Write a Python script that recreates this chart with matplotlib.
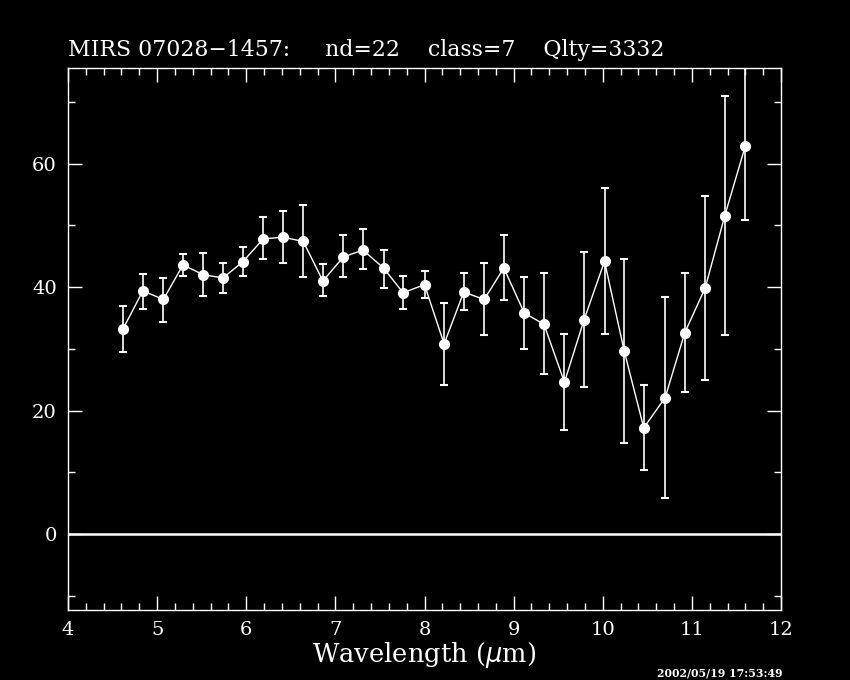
import matplotlib
matplotlib.use("Agg")
import matplotlib.pyplot as plt
from matplotlib.ticker import MultipleLocator

# spectrum
WAVE = [4.62, 4.84, 5.07, 5.29, 5.52, 5.74, 5.96, 6.19, 6.41, 6.64, 6.86,
        7.09, 7.31, 7.54, 7.76, 8.00, 8.22, 8.44, 8.67, 8.89, 9.12, 9.34,
        9.57, 9.79, 10.02, 10.24, 10.46, 10.70, 10.92, 11.15, 11.37, 11.60]
FLUX = [33.3, 39.4, 38.0, 43.6, 42.0, 41.5, 44.1, 47.8, 48.1, 47.4, 41.0,
        44.9, 46.0, 43.1, 39.1, 40.4, 30.8, 39.2, 38.0, 43.1, 35.8, 34.0,
        24.6, 34.7, 44.2, 29.7, 17.2, 22.1, 32.6, 39.9, 51.6, 62.9]
ERR_HI = [37.0, 42.1, 41.5, 45.4, 45.5, 43.9, 46.5, 51.4, 52.3, 53.3, 43.8,
          48.5, 49.4, 46.0, 41.8, 42.6, 37.4, 42.3, 43.9, 48.5, 41.7, 42.3,
          32.4, 45.7, 56.0, 44.6, 24.1, 38.4, 42.3, 54.8, 71.0, 75.5]
ERR_LO = [29.5, 36.5, 34.4, 41.8, 38.6, 39.1, 41.8, 44.6, 43.9, 41.7, 38.6,
          41.7, 42.9, 39.9, 36.5, 38.2, 24.1, 36.3, 32.3, 37.9, 30.0, 25.9,
          16.9, 23.8, 32.4, 14.7, 10.4, 5.8, 23.0, 25.0, 32.3, 50.9]

TITLE = "MIRS 07028\u22121457:     nd=22    class=7    Qlty=3332"
STAMP = "2002/05/19 17:53:49"

plt.rcParams["font.family"] = ["DejaVu Serif"]
fig = plt.figure(figsize=(8.5, 6.8), dpi=100, facecolor="black")
ax = fig.add_axes([68 / 850, 1 - 610 / 680, (781 - 68) / 850, (610 - 68) / 680])
ax.set_facecolor("black")

yerr = [[f - lo for f, lo in zip(FLUX, ERR_LO)], [hi - f for f, hi in zip(FLUX, ERR_HI)]]
ax.axhline(0, color="white", lw=1.8, zorder=1)
ax.errorbar(WAVE, FLUX, yerr=yerr, fmt="-o", color="white", ms=7, lw=1,
            elinewidth=1.2, capsize=3, capthick=1.5, mfc="white", mec="white", zorder=3)

ax.set_xlim(4, 12)
ax.set_ylim(-12.3, 75.5)
ax.xaxis.set_major_locator(MultipleLocator(1))
ax.xaxis.set_minor_locator(MultipleLocator(0.2))
ax.yaxis.set_major_locator(MultipleLocator(20))
ax.yaxis.set_minor_locator(MultipleLocator(10))
for s in ax.spines.values():
    s.set_color("white")
    s.set_linewidth(1)
ax.tick_params(which="both", direction="in", colors="white", top=True, right=True,
               labelsize=14, width=1)
ax.tick_params(which="major", length=10, pad=8)
ax.tick_params(which="minor", length=5)
ax.set_xlabel("Wavelength ($\\mu$m)", color="white", fontsize=18.5, labelpad=1)

fig.text(68 / 850, 1 - 50 / 680, TITLE, color="white", fontsize=15.8, va="center", ha="left")
fig.text(720 / 850, 1 - 673 / 680, STAMP, color="white", fontsize=7.8, fontweight="bold",
         ha="center", va="center")

fig.savefig("out.png", dpi=100, facecolor="black")
